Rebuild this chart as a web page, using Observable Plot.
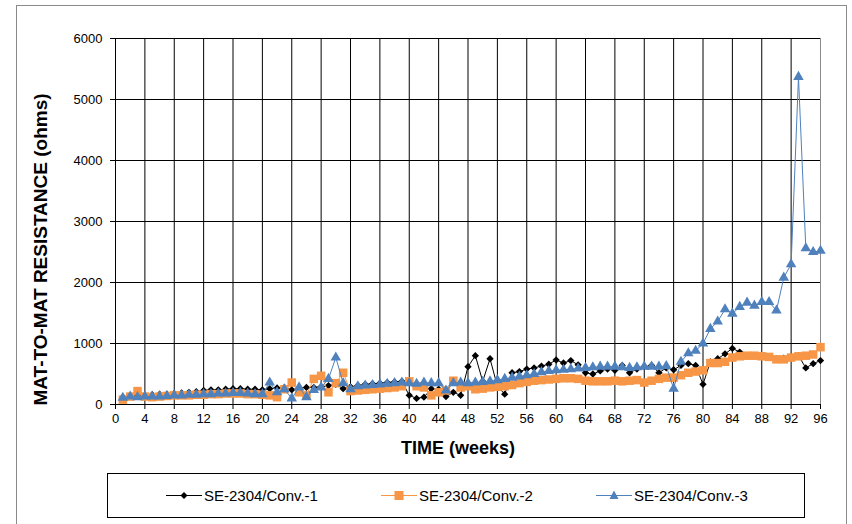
<!DOCTYPE html>
<html>
<head>
<meta charset="utf-8">
<script src="https://cdn.jsdelivr.net/npm/d3@7"></script>
<script src="https://cdn.jsdelivr.net/npm/@observablehq/plot@0.6"></script>
<style>
  html, body { margin: 0; padding: 0; background: #fff; }
  body { width: 852px; height: 524px; position: relative; overflow: hidden; font-family: "Liberation Sans", Arial, sans-serif; }
  #frame { position: absolute; left: 16px; top: 5px; width: 831px; height: 540px; border: 1px solid #8a8a8a; box-sizing: border-box; }
  #chart { position: absolute; left: 0; top: 0; }
  #legend { position: absolute; left: 107px; top: 473px; width: 698px; height: 45px; border: 1px solid #000; box-sizing: border-box; background: #fff; }
  .item { position: absolute; top: 12px; font-size: 15px; color: #000; display: flex; align-items: center; }
  .item svg { margin-right: 1px; }
</style>
</head>
<body>
<div id="frame"></div>
<div id="chart"></div>
<div id="legend"></div>
<script>
const weeks = [1,2,3,4,5,6,7,8,9,10,11,12,13,14,15,16,17,18,19,20,21,22,23,24,25,26,27,28,29,30,31,32,33,34,35,36,37,38,39,40,41,42,43,44,45,46,47,48,49,50,51,52,53,54,55,56,57,58,59,60,61,62,63,64,65,66,67,68,69,70,71,72,73,74,75,76,77,78,79,80,81,82,83,84,85,86,87,88,89,90,91,92,93,94,95,96];

const conv1 = [120,140,150,150,160,170,170,180,190,200,210,230,240,240,250,260,260,250,250,240,
  260,270,280,240,270,280,280,290,310,330,260,290,
  310,330,340,350,360,370,380,150,100,120,260,250,130,200,150,620,
  800,380,750,300,170,520,540,580,600,630,660,730,680,720,650,520,
  500,550,580,560,640,520,580,620,640,520,600,570,640,670,640,330,
  700,750,830,920,860,800,800,780,780,750,760,780,800,600,670,720];

const conv2 = [80,130,220,130,120,130,140,150,150,150,160,160,170,170,180,180,180,170,170,160,
  150,120,250,360,200,150,420,470,200,350,520,220,
  230,240,250,260,270,280,300,380,300,280,150,200,230,390,280,300,
  250,260,280,290,300,320,350,370,390,400,410,420,430,430,420,390,
  380,380,380,390,380,390,400,360,390,420,440,440,480,520,540,560,
  680,680,700,770,790,800,800,790,780,740,740,770,790,800,820,940];

const conv3 = [110,130,120,130,130,130,140,150,150,160,160,170,170,180,180,190,190,180,170,170,
  360,200,250,100,280,120,240,280,420,770,350,250,
  300,310,320,330,340,350,360,350,340,360,350,350,230,350,360,350,
  360,370,380,400,420,440,460,480,500,530,550,560,570,580,590,600,
  610,620,620,620,610,600,610,620,620,620,630,260,700,840,880,1000,
  1240,1360,1560,1490,1600,1670,1620,1680,1680,1540,2080,2300,5370,2560,2500,2520];

const seriesNames = ["SE-2304/Conv.-1", "SE-2304/Conv.-2", "SE-2304/Conv.-3"];
const seriesColors = ["#000000", "#F79646", "#4F81BD"];
const xTicks = [0,4,8,12,16,20,24,28,32,36,40,44,48,52,56,60,64,68,72,76,80,84,88,92,96];
const yTicks = [0,1000,2000,3000,4000,5000,6000];
const xLabel = "TIME (weeks)";
const yLabel = "MAT-TO-MAT RESISTANCE (ohms)";

const rows = (vals) => weeks.map((w, i) => ({week: w, value: vals[i]}));
const d1 = rows(conv1), d2 = rows(conv2), d3s = rows(conv3);

const plot = Plot.plot({
  width: 852,
  height: 465,
  marginLeft: 115,
  marginRight: 32,
  marginTop: 38,
  marginBottom: 61,
  style: {fontFamily: "'Liberation Sans', Arial, sans-serif", fontSize: "13px", background: "transparent", overflow: "visible"},
  x: {domain: [0, 96], ticks: xTicks, label: null},
  y: {domain: [0, 6000], ticks: yTicks, label: null},
  marks: [
    Plot.ruleX(xTicks, {stroke: "#000", strokeWidth: 1}),
    Plot.ruleY(yTicks, {stroke: "#000", strokeWidth: 1}),
    Plot.ruleX([96], {stroke: "#8a8a8a", strokeWidth: 1}),
    Plot.axisX({ticks: xTicks, tickSize: 5, tickPadding: 4, fontSize: 13, label: null, tickFormat: d => String(d)}),
    Plot.axisY({ticks: yTicks, tickSize: 5, tickPadding: 8, fontSize: 13, label: null, tickFormat: d => String(d)}),
    Plot.lineY(d1, {x: "week", y: "value", stroke: seriesColors[0], strokeWidth: 1}),
    Plot.dot(d1, {x: "week", y: "value", symbol: "diamond2", fill: seriesColors[0], stroke: "none", r: 3.3}),
    Plot.lineY(d2, {x: "week", y: "value", stroke: seriesColors[1], strokeWidth: 1}),
    Plot.dot(d2, {x: "week", y: "value", symbol: "square", fill: seriesColors[1], stroke: "none", r: 4.8}),
    Plot.lineY(d3s, {x: "week", y: "value", stroke: seriesColors[2], strokeWidth: 1}),
    Plot.dot(d3s, {x: "week", y: "value", symbol: "triangle", fill: seriesColors[2], stroke: "none", r: 3.9}),
    Plot.text([yLabel], {frameAnchor: "left", dx: -75, dy: 28, rotate: -90, fontSize: 19, fontWeight: "bold", fill: "#000", textAnchor: "middle"}),
    Plot.text([xLabel], {frameAnchor: "bottom", dx: -10, dy: 49, fontSize: 18, fontWeight: "bold", fill: "#000"})
  ]
});
document.getElementById("chart").appendChild(plot);

// legend
const legend = document.getElementById("legend");
const lefts = [58, 273, 488];
const syms = ["diamond", "square", "triangle"];
seriesNames.forEach((name, i) => {
  const div = document.createElement("div");
  div.className = "item";
  div.style.left = lefts[i] + "px";
  let sym = "";
  if (syms[i] === "diamond") sym = `<path d="M18,6 L21.5,9.5 L18,13 L14.5,9.5 Z" fill="${seriesColors[i]}"/>`;
  if (syms[i] === "square") sym = `<rect x="13.5" y="5" width="9" height="9" fill="${seriesColors[i]}"/>`;
  if (syms[i] === "triangle") sym = `<path d="M18,4.5 L22.5,13 L13.5,13 Z" fill="${seriesColors[i]}"/>`;
  div.innerHTML = `<svg width="37" height="19"><line x1="0" x2="36" y1="9.5" y2="9.5" stroke="${seriesColors[i]}" stroke-width="1"/>${sym}</svg><span>${name}</span>`;
  legend.appendChild(div);
});
</script>
</body>
</html>
